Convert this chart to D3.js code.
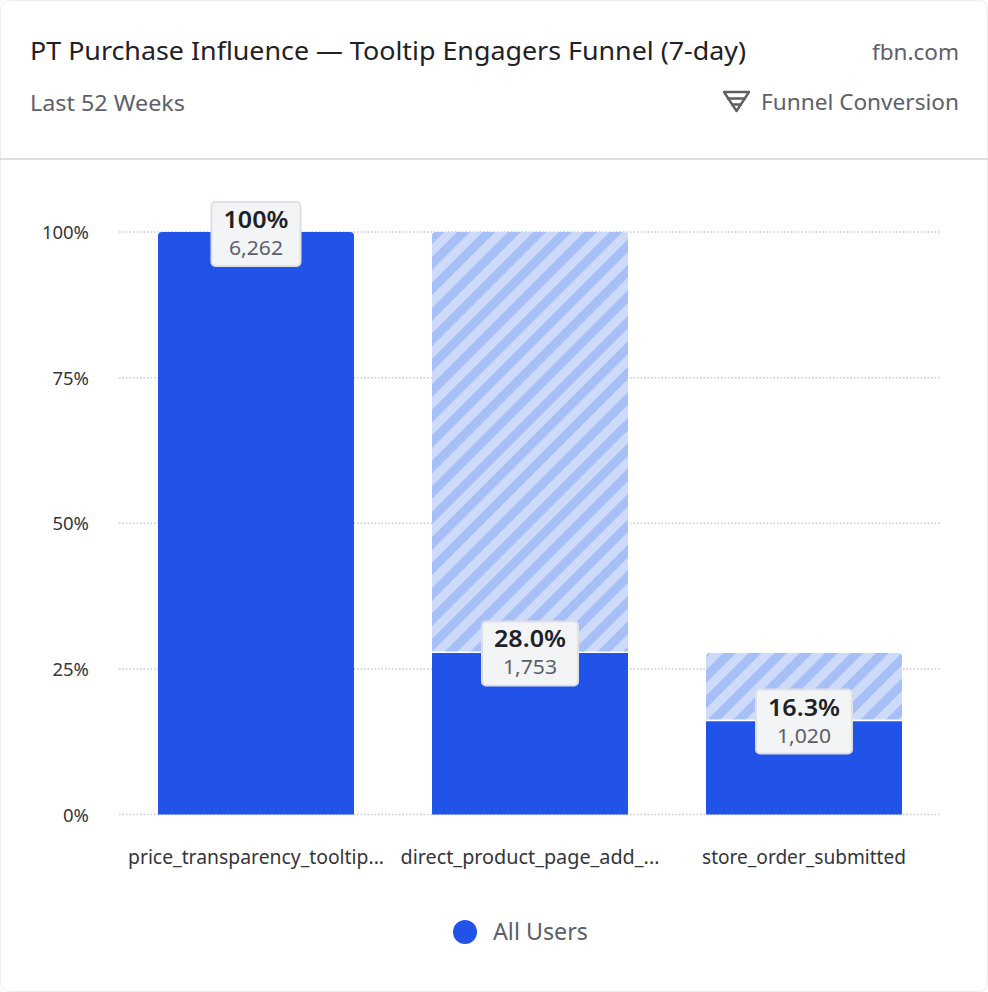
<!DOCTYPE html>
<html><head><meta charset="utf-8">
<script src="https://cdn.jsdelivr.net/npm/d3@7"></script>
<style>html,body{margin:0;padding:0;background:#fff}svg{display:block}text{font-family:"Noto Sans",sans-serif}</style>
</head><body><div id="chart"></div>
<script>
const steps = ["price_transparency_tooltip...", "direct_product_page_add_...", "store_order_submitted"];
const conversion = [1.0, 0.28, 0.163];
const conversionLabels = ["100%", "28.0%", "16.3%"];
const counts = ["6,262", "1,753", "1,020"];
const yTicks = [0, 0.25, 0.5, 0.75, 1];
const yTickLabels = ["0%", "25%", "50%", "75%", "100%"];
const legendItems = ["All Users"];
const titleText = "PT Purchase Influence — Tooltip Engagers Funnel (7-day)";
const subtitleText = "Last 52 Weeks";
const sourceText = "fbn.com";
const metricText = "Funnel Conversion";

const W = 988, H = 992, BLUE = "#2253e9", INK = "#1f2126", GREY = "#5d6069";
const svg = d3.select("#chart").append("svg").attr("width", W).attr("height", H);
const defs = svg.append("defs");
const pat = defs.append("pattern").attr("id", "hatch").attr("patternUnits", "userSpaceOnUse")
  .attr("width", 18).attr("height", 18).attr("patternTransform", "rotate(45 433 232)");
pat.append("rect").attr("width", 18).attr("height", 18).attr("fill", "#cddaf9");
pat.append("rect").attr("width", 9).attr("height", 18).attr("fill", "#a6bff6");

// fit text to a measured width, keeping real text
function label(g, str, x, y, size, fill, anchor, width, weight) {
  const t = g.append("text").attr("x", x).attr("y", y).attr("font-size", size).attr("fill", fill)
    .attr("text-anchor", anchor || "start").attr("font-weight", weight || 400).text(str);
  if (width) t.attr("textLength", width).attr("lengthAdjust", "spacingAndGlyphs");
  return t;
}

// card + header
svg.append("rect").attr("x", .5).attr("y", .5).attr("width", W - 1).attr("height", H - 1).attr("rx", 8)
  .attr("fill", "#fff").attr("stroke", "#eeeef1");
svg.append("rect").attr("x", 0).attr("y", 158).attr("width", W).attr("height", 2).attr("fill", "#dfdfe4");
const head = svg.append("g");
label(head, titleText, 30, 60, 25, INK, "start", 716);
label(head, subtitleText, 30, 111, 22, GREY, "start", 155);
label(head, sourceText, 959, 60, 22, GREY, "end", 87);
label(head, metricText, 959, 110, 22, GREY, "end", 198);
const ic = head.append("g").attr("fill", "none").attr("stroke", GREY).attr("stroke-width", 2.4);
ic.append("path").attr("d", "M724 92H749L736.5 111Z").attr("stroke-linejoin", "round");
ic.append("path").attr("d", "M727 98.5H746M731 104.5H742");

// scales
const x = d3.scaleBand().domain(steps).range([119, 941]);
const y = d3.scaleLinear().domain([0, 1]).range([814.5, 232]);
const barW = 196, gap = 1.6, r = 4;
const cx = d => x(d) + x.bandwidth() / 2;

// grid + axes
const grid = svg.append("g");
grid.selectAll("line").data(yTicks).join("line")
  .attr("x1", 119).attr("x2", 941).attr("y1", d => y(d)).attr("y2", d => y(d))
  .attr("stroke", "#c4c9d3").attr("stroke-width", 1.5).attr("stroke-dasharray", "1.5 2");
svg.append("g").selectAll("text").data(yTicks).join("text")
  .attr("x", 89).attr("y", d => y(d) + 7).attr("text-anchor", "end").attr("font-size", 18.5).attr("fill", "#33353b")
  .text((d, i) => yTickLabels[i]);
svg.append("g").selectAll("text").data(steps).join("text")
  .attr("x", cx).attr("y", 864).attr("text-anchor", "middle").attr("font-size", 19).attr("fill", "#33353b")
  .attr("textLength", (d, i) => [256, 259, 204][i]).attr("lengthAdjust", "spacingAndGlyphs")
  .text(d => d);

function topRound(x0, w, y0, y1, rad) {
  return `M${x0} ${y1}V${y0 + rad}Q${x0} ${y0} ${x0 + rad} ${y0}H${x0 + w - rad}Q${x0 + w} ${y0} ${x0 + w} ${y0 + rad}V${y1}Z`;
}
const bars = svg.append("g");
steps.forEach((s, i) => {
  const x0 = cx(s) - barW / 2, v = conversion[i];
  if (i > 0) {
    const prevTop = y(conversion[i - 1]) + (i > 1 ? gap : 0);
    bars.append("path").attr("d", topRound(x0, barW, prevTop, y(v), r)).attr("fill", "url(#hatch)");
  }
  bars.append("path").attr("d", topRound(x0, barW, y(v) + (i > 0 ? gap : 0), y(0), i === 0 ? r : 0)).attr("fill", BLUE);
});

// value boxes
const boxes = svg.append("g");
steps.forEach((s, i) => {
  const bw = i === 0 ? 91 : 98, top = y(conversion[i]) - 31;
  const g = boxes.append("g").attr("transform", `translate(${cx(s)},${top})`);
  g.append("rect").attr("x", -bw / 2 + 1).attr("y", 1).attr("width", bw - 2).attr("height", 64).attr("rx", 4)
    .attr("fill", "#f3f4f6").attr("stroke", "#dfe0e4").attr("stroke-width", 2);
  label(g, conversionLabels[i], 0, 27, 22.5, INK, "middle", i === 0 ? 65 : 72, 600);
  label(g, counts[i], 0, 54, 19, GREY, "middle", 54);
});

// legend
const lg = svg.append("g");
lg.selectAll("circle").data(legendItems).join("circle").attr("cx", 465).attr("cy", 932).attr("r", 12).attr("fill", BLUE);
lg.selectAll("text").data(legendItems).join("text").attr("x", 493).attr("y", 940).attr("font-size", 23).attr("fill", GREY)
  .attr("textLength", 95).attr("lengthAdjust", "spacingAndGlyphs").text(d => d);
</script></body></html>
